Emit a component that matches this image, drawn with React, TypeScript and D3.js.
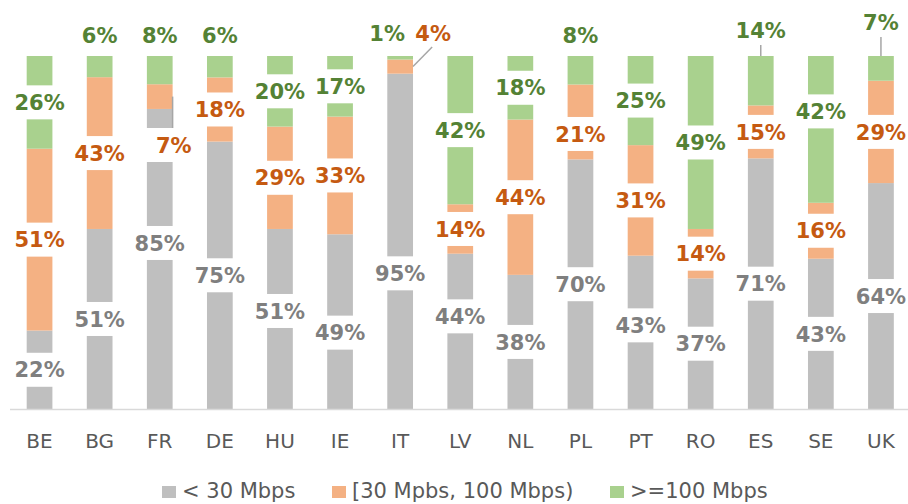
import React, { useEffect } from "react";
import * as d3 from "d3";

// broadband coverage shares per country (%)
const countries = ["BE", "BG", "FR", "DE", "HU", "IE", "IT", "LV", "NL", "PL", "PT", "RO", "ES", "SE", "UK"];
const below30 = [22, 51, 85, 75, 51, 49, 95, 44, 38, 70, 43, 37, 71, 43, 64];
const from30to100 = [51, 43, 7, 18, 29, 33, 4, 14, 44, 21, 31, 14, 15, 16, 29];
const above100 = [26, 6, 8, 6, 20, 17, 1, 42, 18, 8, 25, 49, 14, 42, 7];
const seriesNames = ["< 30 Mbps", "[30 Mpbs, 100 Mbps)", ">=100 Mbps"];

const barColors = ["#BFBFBF", "#F4B183", "#A9D18E"];
const textColors = ["#7F7F7F", "#C55A11", "#548235"];

// manual nudges of in-bar labels (px), key = country-seriesIndex
const labelShift: Record<string, number> = {
  "FR-0": -16, "HU-0": -8, "IE-0": 11, "IT-0": 32, "LV-0": -15, "PT-0": -7, "PL-1": 12, "SE-2": -18,
};
// labels moved outside the bars
type Outside = { dx: number; y: number; leader?: "vert" | "diag" | "side"; box?: boolean };
const outsideLabels: Record<string, Outside> = {
  "BG-2": { dx: 0, y: 35 },
  "FR-2": { dx: 0, y: 35 },
  "DE-2": { dx: 0, y: 35 },
  "PL-2": { dx: 0, y: 35 },
  "IT-2": { dx: -13, y: 33 },
  "IT-1": { dx: 33, y: 33, leader: "diag" },
  "ES-2": { dx: 0, y: 30, leader: "vert" },
  "UK-2": { dx: 0, y: 22, leader: "vert" },
  "FR-1": { dx: 14, y: 145, leader: "side", box: true },
};

const W = 908;
const H = 504;
const top = 56;
const base = 409;
const labelFont = "bold 21px 'DejaVu Sans'";

let ctx: CanvasRenderingContext2D | null = null;
const textW = (s: string) => {
  if (!ctx) ctx = document.createElement("canvas").getContext("2d");
  if (!ctx) return s.length * 14;
  ctx.font = labelFont;
  return ctx.measureText(s).width;
};

const App = () => {
  useEffect(() => {
    document.body.style.margin = "0";
  }, []);

  const x = d3.scaleBand().domain(countries).range([9.5, 911]).paddingInner(0.572).paddingOuter(0.286);
  const y = d3.scaleLinear().domain([0, 1]).range([base, top]);

  const rows = countries.map((c, i) => {
    const vals = [below30[i], from30to100[i], above100[i]];
    const total = d3.sum(vals);
    let acc = 0;
    const segs = vals.map((v, k) => {
      const y0 = acc / total;
      acc += v;
      return { k, v, y0, y1: acc / total };
    });
    return { c, segs };
  });

  const bw = x.bandwidth();

  return (
    <svg width={W} height={H} style={{ display: "block" }}>
      <rect width={W} height={H} fill="#fff" />
      {rows.map((r) => (
        <g key={r.c}>
          {r.segs.map((s) => (
            <rect
              key={s.k}
              x={x(r.c)}
              y={y(s.y1)}
              width={bw}
              height={y(s.y0) - y(s.y1)}
              fill={barColors[s.k]}
            />
          ))}
        </g>
      ))}
      <line x1={10} x2={W} y1={base + 0.5} y2={base + 0.5} stroke="#D9D9D9" strokeWidth={1.5} />

      {rows.map((r) =>
        r.segs.map((s) => {
          const key = `${r.c}-${s.k}`;
          const cx = (x(r.c) as number) + bw / 2;
          const txt = `${s.v}%`;
          const tw = textW(txt);
          const out = outsideLabels[key];
          if (out) {
            const lx = cx + out.dx;
            const segMid = (y(s.y0) + y(s.y1)) / 2;
            let leader = null;
            if (out.leader === "vert") leader = <line x1={cx} x2={cx} y1={out.y + 15} y2={top} stroke="#A6A6A6" strokeWidth={1.5} />;
            if (out.leader === "diag")
              leader = <line x1={cx + bw / 2} y1={segMid} x2={lx - 1} y2={out.y + 14} stroke="#A6A6A6" strokeWidth={1.5} />;
            if (out.leader === "side")
              leader = <line x1={cx + bw / 2} x2={cx + bw / 2} y1={segMid} y2={out.y - 17} stroke="#A6A6A6" strokeWidth={1.5} />;
            return (
              <g key={key}>
                {out.box && <rect x={lx - tw / 2 - 12} y={out.y - 17} width={tw + 24} height={34} fill="#fff" />}
                {leader}
                <text x={lx} y={out.y + 7.7} textAnchor="middle" fill={textColors[s.k]} style={{ font: labelFont }}>
                  {txt}
                </text>
              </g>
            );
          }
          const cy = (y(s.y0) + y(s.y1)) / 2 + (labelShift[key] || 0);
          return (
            <g key={key}>
              <rect x={cx - tw / 2 - 8} y={cy - 17} width={tw + 16} height={34} fill="#fff" />
              <text x={cx} y={cy + 7.7} textAnchor="middle" fill={textColors[s.k]} style={{ font: labelFont }}>
                {txt}
              </text>
            </g>
          );
        })
      )}

      {countries.map((c) => (
        <text
          key={c}
          x={(x(c) as number) + bw / 2}
          y={448}
          textAnchor="middle"
          fill="#595959"
          style={{ font: "20px 'DejaVu Sans'" }}
        >
          {c}
        </text>
      ))}

      {seriesNames.map((n, i) => {
        const lx = [162, 332, 610][i];
        return (
          <g key={n}>
            <rect x={lx} y={486} width={14} height={12} fill={barColors[i]} />
            <text x={lx + 20} y={498} fill="#595959" style={{ font: "21px 'DejaVu Sans'" }}>
              {n}
            </text>
          </g>
        );
      })}
    </svg>
  );
};

export default App;
